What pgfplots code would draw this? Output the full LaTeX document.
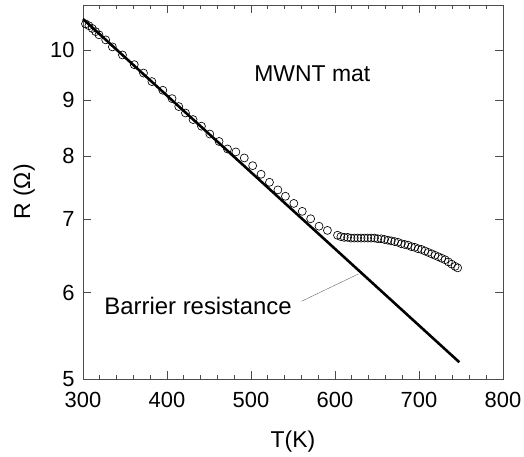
\documentclass[border=0pt]{standalone}
\usepackage{pgfplots}
\pgfplotsset{compat=1.18}
\usepackage{fontspec}
\setmainfont{Liberation Sans}
\begin{document}
\begin{tikzpicture}
\path[use as bounding box] (-83bp,-78bp) rectangle (441bp,379bp);
\begin{axis}[
  scale only axis,
  width=420bp, height=374bp,
  xmin=300, xmax=800,
  ymode=log, ymin=5, ymax=11,
  xtick={300,400,500,600,700,800},
  minor x tick num=4,
  ytick={5,6,7,8,9,10},
  yticklabels={5,6,7,8,9,10},
  yminorticks=false,
  /pgf/number format/assume math mode=true,
  tick align=inside,
  major tick length=8bp,
  minor tick length=4bp,
  axis line style={draw=black!70, line width=0.9pt},
  every tick/.style={black!70, line width=0.8pt},
  tick label style={font=\fontsize{22}{26}\selectfont},
  xticklabel style={yshift=-10bp},
  yticklabel style={xshift=-5bp},
  xlabel={T(K)},
  ylabel={R (Ω)},
  xlabel style={font=\fontsize{23}{27}\selectfont, at={(axis description cs:0.5,-0.168)}, anchor=center},
  ylabel style={font=\fontsize{23}{27}\selectfont, at={(axis description cs:-0.14,0.5)}, anchor=center},
  clip=false,
]
\addplot[black, line width=2.6pt] coordinates {(300,10.68) (748,5.18)};
\addplot[only marks, mark=o, mark size=4bp, mark options={line width=0.65pt, black}] coordinates {
(303,10.57) (307,10.53) (311,10.47) (315,10.40) (319,10.33)
(327,10.22) (335,10.07) (347,9.90) (361,9.70) (372,9.53)
(382,9.36) (395,9.19) (406,9.03) (414,8.88) (422,8.76)
(431,8.64) (441,8.52) (451,8.38) (462,8.25) (472,8.12)
(482,8.07) (492,7.97) (502,7.84) (512,7.70) (522,7.57)
(532,7.45) (541,7.35) (551,7.24) (561,7.12) (571,7.01)
(581,6.90) (591,6.84)
(603,6.77) (607,6.75) (611,6.74) (615,6.74) (619,6.73) (623,6.73)
(627,6.73) (631,6.73) (635,6.73) (639,6.73) (643,6.73) (647,6.73)
(651,6.72) (655,6.72) (659,6.71) (663,6.70) (667,6.69) (671,6.68)
(675,6.67) (679,6.65) (683,6.64) (687,6.63) (691,6.61) (695,6.60)
(699,6.58) (703,6.57) (707,6.55) (711,6.53) (715,6.51) (719,6.49)
(723,6.47) (727,6.45) (731,6.43) (735,6.40) (739,6.37) (743,6.34)
(746,6.32)
};
\draw[black!60, line width=0.4pt] (axis cs:560,5.89) -- (axis cs:628,6.24);
\node[font=\fontsize{24}{28}\selectfont, anchor=center] at (axis cs:437,5.83) {Barrier resistance};
\node[font=\fontsize{23}{27}\selectfont, anchor=center] at (axis cs:573,9.51) {MWNT mat};
\end{axis}
\end{tikzpicture}
\end{document}
